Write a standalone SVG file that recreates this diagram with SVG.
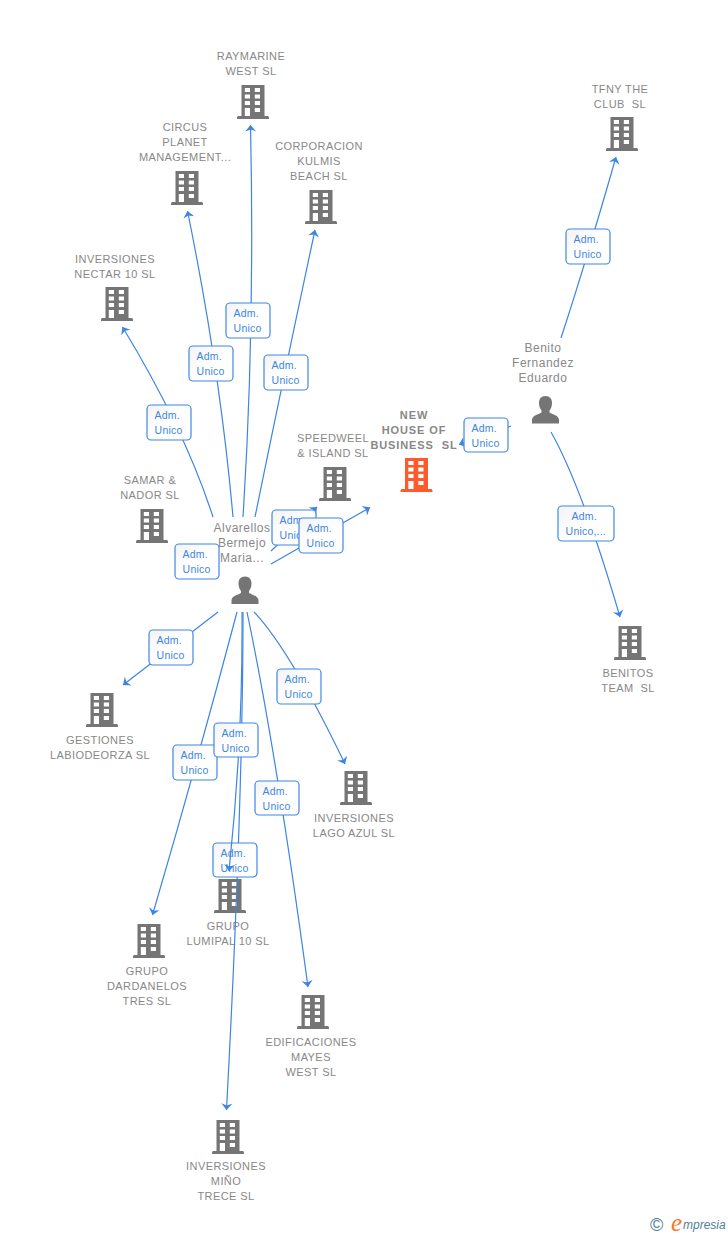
<svg xmlns="http://www.w3.org/2000/svg" width="728" height="1235" viewBox="0 0 728 1235">
<style>
text{font-family:"Liberation Sans",Arial,sans-serif}
.n{font-size:11px;fill:#888;text-anchor:middle;letter-spacing:.42px;white-space:pre}
.p{font-size:12px;letter-spacing:.5px}
.b{font-weight:bold;letter-spacing:.9px}
.e{fill:none;stroke:#3d85e2;stroke-width:1.2;marker-end:url(#a)}
.l rect{fill:url(#g);stroke:#4088e4;stroke-width:1.2}
.l text{font-size:10.5px;fill:#3d85e2;letter-spacing:.2px;transform:translate(-.4px,.6px)}
.i{fill:#757575}
.o{fill:#ff5a2c}
</style>
<defs>
<linearGradient id="g" x1="0" y1="0" x2="1" y2="1"><stop offset="0" stop-color="#f3f3f3"/><stop offset=".5" stop-color="#fff"/></linearGradient>
<marker id="a" viewBox="-8 -7 9 14" markerWidth="9" markerHeight="14" markerUnits="userSpaceOnUse" orient="auto" refX="0" refY="0"><path d="M0 0L-6.500-5.500L-4.500 0L-6.500 5.500Z" fill="#3d85e2"/></marker>
<symbol id="bld" viewBox="0 0 32 34" width="32" height="34" overflow="visible"><path fill-rule="evenodd" d="M4.500 0H27.500V31H31Q32 31.500 32 33V34H0V33Q0 31.500 1 31H4.500ZM7.800 3V7H13V3ZM17.800 3V7H23V3ZM7.800 9.500V13.500H13V9.500ZM17.800 9.500V13.500H23V9.500ZM7.800 16V20H13V16ZM17.800 16V20H23V16ZM7.800 23V31H13V23ZM17.800 23V27H23V23Z"/></symbol>
<symbol id="per" viewBox="0 0 28 28" width="28" height="28" overflow="visible"><path d="M14 0C18.500 0 20.500 3 20.500 7C20.500 11 19 13 18 14.500V16.500C21.500 18.500 27 19.500 27.500 23.500V27.500H.5V23.500C1 19.500 6.500 18.500 10 16.500V14.500C9 13 7.500 11 7.500 7C7.500 3 9.500 0 14 0Z"/></symbol>
</defs>
<rect width="728" height="1235" fill="#fff"/>
<g id="nodes">
<g id="raymarine"><use href="#bld" x="237" y="85" class="i"/><text class="n"><tspan x="251" y="60">RAYMARINE</tspan><tspan x="251" y="75">WEST SL</tspan></text></g>
<g id="tfny"><use href="#bld" x="606" y="117" class="i"/><text class="n"><tspan x="620" y="93">TFNY THE</tspan><tspan x="620" y="108">CLUB  SL</tspan></text></g>
<g id="circus"><use href="#bld" x="171" y="171" class="i"/><text class="n"><tspan x="185" y="131">CIRCUS</tspan><tspan x="185" y="146">PLANET</tspan><tspan x="185" y="161">MANAGEMENT...</tspan></text></g>
<g id="corporacion"><use href="#bld" x="305" y="190" class="i"/><text class="n"><tspan x="319" y="150">CORPORACION</tspan><tspan x="319" y="165">KULMIS</tspan><tspan x="319" y="180">BEACH SL</tspan></text></g>
<g id="nectar"><use href="#bld" x="101" y="287" class="i"/><text class="n"><tspan x="115" y="263">INVERSIONES</tspan><tspan x="115" y="278">NECTAR 10 SL</tspan></text></g>
<g id="samar"><use href="#bld" x="136" y="509" class="i"/><text class="n"><tspan x="150" y="484">SAMAR &amp;</tspan><tspan x="150" y="499">NADOR SL</tspan></text></g>
<g id="speedweel"><use href="#bld" x="319" y="467" class="i"/><text class="n"><tspan x="333" y="442">SPEEDWEEL</tspan><tspan x="333" y="457">&amp; ISLAND SL</tspan></text></g>
<g id="newhouse"><use href="#bld" x="400.500" y="458" class="o"/><text class="n b"><tspan x="414" y="419">NEW</tspan><tspan x="414" y="434">HOUSE OF</tspan><tspan x="414" y="449">BUSINESS  SL</tspan></text></g>
<g id="benitos"><use href="#bld" x="614" y="626" class="i"/><text class="n"><tspan x="628" y="677">BENITOS</tspan><tspan x="628" y="692">TEAM  SL</tspan></text></g>
<g id="gestiones"><use href="#bld" x="86" y="693" class="i"/><text class="n"><tspan x="100" y="744">GESTIONES</tspan><tspan x="100" y="759">LABIODEORZA SL</tspan></text></g>
<g id="lagoazul"><use href="#bld" x="340" y="771" class="i"/><text class="n"><tspan x="354" y="822">INVERSIONES</tspan><tspan x="354" y="837">LAGO AZUL SL</tspan></text></g>
<g id="lumipal"><use href="#bld" x="214" y="879" class="i"/><text class="n"><tspan x="228" y="930">GRUPO</tspan><tspan x="228" y="945">LUMIPAL 10 SL</tspan></text></g>
<g id="dardanelos"><use href="#bld" x="133" y="924" class="i"/><text class="n"><tspan x="147" y="975">GRUPO</tspan><tspan x="147" y="990">DARDANELOS</tspan><tspan x="147" y="1005">TRES SL</tspan></text></g>
<g id="edificaciones"><use href="#bld" x="297" y="995" class="i"/><text class="n"><tspan x="311" y="1046">EDIFICACIONES</tspan><tspan x="311" y="1061">MAYES</tspan><tspan x="311" y="1076">WEST SL</tspan></text></g>
<g id="minio"><use href="#bld" x="212" y="1120" class="i"/><text class="n"><tspan x="226" y="1170">INVERSIONES</tspan><tspan x="226" y="1185">MIÑO</tspan><tspan x="226" y="1200">TRECE SL</tspan></text></g>
<g id="alvarellos"><use href="#per" x="231" y="576.500" class="i"/><text class="n p"><tspan x="242" y="532">Alvarellos</tspan><tspan x="242" y="547">Bermejo</tspan><tspan x="242" y="562">Maria...</tspan></text></g>
<g id="benito"><use href="#per" x="531.500" y="396" class="i"/><text class="n p"><tspan x="543" y="352">Benito</tspan><tspan x="543" y="367">Fernandez</tspan><tspan x="543" y="382">Eduardo</tspan></text></g>
</g>
<g id="connectors">
<path class="e" d="M243 517Q255 330 250.500 125"/><g class="l"><rect x="226" y="303" width="44" height="35" rx="4"/><text x="234" y="316">Adm.</text><text x="234" y="331">Unico</text></g>
<path class="e" d="M233 517Q220 370 187.500 211"/><g class="l"><rect x="189" y="346" width="44" height="35" rx="4"/><text x="197" y="359">Adm.</text><text x="197" y="374">Unico</text></g>
<path class="e" d="M255 517Q285 370 315 230"/><g class="l"><rect x="264" y="355" width="44" height="35" rx="4"/><text x="272" y="368">Adm.</text><text x="272" y="383">Unico</text></g>
<path class="e" d="M213 517Q185 430 122.500 327"/><g class="l"><rect x="147" y="405" width="44" height="35" rx="4"/><text x="155" y="418">Adm.</text><text x="155" y="433">Unico</text></g>
<g class="l"><rect x="175" y="544" width="44" height="35" rx="4"/><text x="183" y="557">Adm.</text><text x="183" y="572">Unico</text></g>
<path class="e" d="M271 551L317 507"/><g class="l"><rect x="272" y="510" width="44" height="35" rx="4"/><text x="280" y="523">Adm.</text><text x="280" y="538">Unico</text></g>
<path class="e" d="M271 564L370 507.500"/><g class="l"><rect x="299" y="518" width="44" height="35" rx="4"/><text x="307" y="531">Adm.</text><text x="307" y="546">Unico</text></g>
<path class="e" d="M511 426L459 444.500"/><g class="l"><rect x="464" y="418" width="44" height="34" rx="4"/><text x="472" y="431">Adm.</text><text x="472" y="446">Unico</text></g>
<path class="e" d="M561 338Q585 265 616 157"/><g class="l"><rect x="566" y="229" width="44" height="35" rx="4"/><text x="574" y="242">Adm.</text><text x="574" y="257">Unico</text></g>
<path class="e" d="M551 432Q582 487 620 617"/><g class="l"><rect x="558" y="506" width="56" height="35" rx="4"/><text x="572" y="519">Adm.</text><text x="566" y="534">Unico,...</text></g>
<path class="e" d="M218 612L123 685"/><g class="l"><rect x="149" y="630" width="44" height="35" rx="4"/><text x="157" y="643">Adm.</text><text x="157" y="658">Unico</text></g>
<path class="e" d="M254 612Q290 650 345 764"/><g class="l"><rect x="277" y="669" width="44" height="35" rx="4"/><text x="285" y="682">Adm.</text><text x="285" y="697">Unico</text></g>
<path class="e" d="M237 612Q198 760 152.500 915"/><g class="l"><rect x="173" y="745" width="44" height="35" rx="4"/><text x="181" y="758">Adm.</text><text x="181" y="773">Unico</text></g>
<path class="e" d="M247 612Q276 750 308 987"/><g class="l"><rect x="255" y="781" width="44" height="34" rx="4"/><text x="263" y="794">Adm.</text><text x="263" y="809">Unico</text></g>
<path class="e" d="M243 612Q243 800 226.500 1110"/><g class="l"><rect x="213" y="843" width="44" height="34" rx="4"/><text x="221" y="856">Adm.</text><text x="221" y="871">Unico</text></g>
<path class="e" d="M242 612Q243 740 229 871"/><g class="l"><rect x="214" y="723" width="44" height="34" rx="4"/><text x="222" y="736">Adm.</text><text x="222" y="751">Unico</text></g>
</g>
<g id="logo"><text x="650" y="1231" style="font-size:18px;fill:#4d8296">©</text><text x="671" y="1231" style="font-family:'Liberation Serif',serif;font-size:25px;font-style:italic;fill:#f47a1f">e</text><text x="683" y="1229" style="font-family:'Liberation Sans',sans-serif;font-size:12px;font-style:italic;fill:#4d8296">mpresia</text></g>
</svg>
